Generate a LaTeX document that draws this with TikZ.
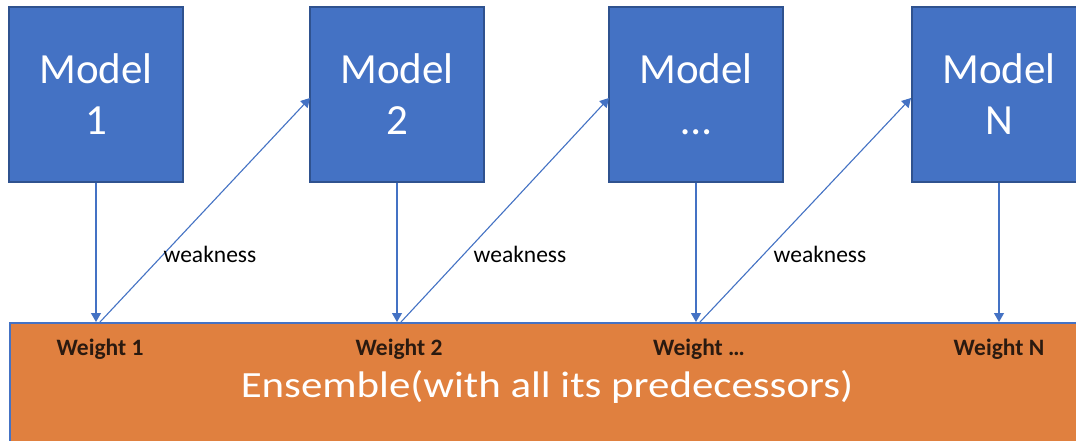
\documentclass[tikz,border=0pt]{standalone}
\usepackage{fontspec}
\setmainfont{Carlito}
\usetikzlibrary{arrows.meta}
\definecolor{mblue}{HTML}{4472C4}
\definecolor{mborder}{HTML}{2F528F}
\definecolor{morange}{HTML}{E0803F}
\definecolor{wtext}{HTML}{2A1A10}
\tikzset{
  modelbox/.style={draw=mborder, line width=1.5pt, fill=mblue, minimum width=174pt, minimum height=175pt, inner sep=0pt, text=white, align=center, font=\fontsize{43}{51}\selectfont},
  conn/.style={draw=mblue, line width=1.1pt, -{Triangle[length=9pt,width=10pt]}},
  wlabel/.style={font=\fontsize{23.5}{26}\selectfont, text=black, anchor=base, inner sep=0pt},
  weightlabel/.style={font=\fontsize{23.5}{26}\selectfont\bfseries, text=wtext, anchor=base, inner sep=0pt}
}
\begin{document}
\begin{tikzpicture}[x=1pt,y=-1pt]
\useasboundingbox (0,0) rectangle (1076,441);
\clip (0,0) rectangle (1076,441);
\fill[white] (0,0) rectangle (1076,441);
% ensemble bar
\node[draw=mblue, line width=1.5pt, fill=morange, minimum width=1081pt, minimum height=138pt, inner sep=0pt, anchor=north west] (bar) at (9,322) {};
\node[text=white, anchor=base, inner sep=0pt, font=\fontsize{37}{44}\selectfont, xscale=1.16, transform shape] (ens) at (547,397) {Ensemble(with all its predecessors)};
% model boxes
\node[modelbox] (m1) at (96,94.5) {Model\\1};
\node[modelbox] (m2) at (397,94.5) {Model\\2};
\node[modelbox] (m3) at (696,94.5) {Model\\\ldots};
\node[modelbox] (m4) at (999,94.5) {Model\\N};
% arrow ends on bar top
\coordinate (v1) at (96,322);
\coordinate (v2) at (397,322);
\coordinate (v3) at (696,322);
\coordinate (v4) at (999,322);
\coordinate (d1) at (100,322);
\coordinate (d2) at (401,322);
\coordinate (d3) at (700,322);
\coordinate (t2) at (310,98);
\coordinate (t3) at (609,98);
\coordinate (t4) at (911,98);
% vertical arrows
\draw[conn] (m1.south) -- (v1);
\draw[conn] (m2.south) -- (v2);
\draw[conn] (m3.south) -- (v3);
\draw[conn] (m4.south) -- (v4);
% diagonal arrows
\draw[conn] (d1) -- (t2);
\draw[conn] (d2) -- (t3);
\draw[conn] (d3) -- (t4);
% labels
\node[wlabel] (k1) at (210,262) {weakness};
\node[wlabel] (k2) at (520,262) {weakness};
\node[wlabel] (k3) at (820,262) {weakness};
\node[weightlabel] (w1) at (100,355) {Weight 1};
\node[weightlabel] (w2) at (399,355) {Weight 2};
\node[weightlabel] (w3) at (699,355) {Weight \ldots};
\node[weightlabel] (w4) at (999,355) {Weight N};
\end{tikzpicture}
\end{document}
